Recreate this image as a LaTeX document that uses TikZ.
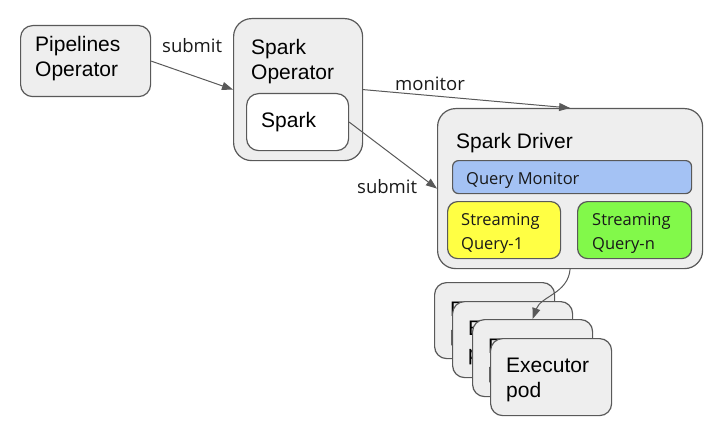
\documentclass[tikz,border=0pt]{standalone}
\usepackage{fontspec}
\setmainfont{Liberation Sans}
\newfontfamily\osans{Open Sans}
\usetikzlibrary{arrows.meta}
\definecolor{boxfill}{HTML}{EEEEEE}
\definecolor{boxline}{HTML}{595959}
\definecolor{arr}{HTML}{595959}
\definecolor{qmon}{HTML}{A4C2F4}
\definecolor{qyel}{HTML}{FFFF44}
\definecolor{qgrn}{HTML}{82F94A}
\newcommand{\twolines}[2]{\begin{tabular}[t]{@{}l@{}}#1\\#2\end{tabular}}
\begin{document}
\begin{tikzpicture}[x=1pt,y=-1pt,
  box/.style={draw=boxline, fill=boxfill, line width=1.2pt, rounded corners=#1, anchor=north west, inner sep=0pt},
  box/.default=12pt,
  big/.style={font=\fontsize{21}{25}\selectfont, anchor=base west, inner sep=0pt, text=black},
  small/.style={font=\osans\fontsize{16.5}{24}\selectfont, anchor=base west, inner sep=0pt, text=black!90},
  lab/.style={font=\osans\fontsize{18.5}{22}\selectfont, anchor=base west, inner sep=0pt, text=black!90},
  conn/.style={draw=arr, line width=1pt, -{Triangle[length=11pt,width=8pt]}}]
\useasboundingbox (0,0) rectangle (721,428);
% Pipelines Operator
\node[box, minimum width=130pt, minimum height=71pt] (pipe) at (20,25) {};
\node[big] (pipeT) at (35,52) {\twolines{Pipelines}{Operator}};
% Spark Operator
\node[box=18pt, minimum width=129pt, minimum height=142pt] (sop) at (233,18) {};
\node[big] (sopT) at (251,55) {\twolines{Spark}{Operator}};
\node[box, fill=white, minimum width=102pt, minimum height=57pt] (spk) at (246,93) {};
\node[big] (spkT) at (261,128) {Spark};
% Spark Driver
\node[box=18pt, minimum width=265pt, minimum height=160pt] (drv) at (437,108) {};
\node[big] (drvT) at (456,148) {Spark Driver};
\node[box=6pt, fill=qmon, minimum width=239pt, minimum height=33pt] (qm) at (452,160) {};
\node[small] (qmT) at (466,184) {Query Monitor};
\node[box=10pt, fill=qyel, minimum width=113pt, minimum height=57pt] (sq1) at (447,201) {};
\node[small] (sq1T) at (461,225) {\twolines{Streaming}{Query-1}};
\node[box=10pt, fill=qgrn, minimum width=114pt, minimum height=57pt] (sqn) at (577,201) {};
\node[small] (sqnT) at (592,225) {\twolines{Streaming}{Query-n}};
% Executor pods
\node[box, minimum width=120pt, minimum height=76pt] (ex1) at (434,282) {};
\node[big] (ex1T) at (450,316) {\twolines{Executor}{pod}};
\node[box, minimum width=120pt, minimum height=76pt] (ex2) at (452,301) {};
\node[big] (ex2T) at (468,335) {\twolines{Executor}{pod}};
\node[box, minimum width=120pt, minimum height=77pt] (ex3) at (472,319) {};
\node[big] (ex3T) at (488,353) {\twolines{Executor}{pod}};
\node[box, minimum width=121pt, minimum height=77pt] (ex4) at (490,338) {};
\node[big] (ex4T) at (506,372) {\twolines{Executor}{pod}};
% connectors
\draw[conn] (pipe.east) -- (sop.west);
\node[lab] (l1) at (162,53) {submit};
\draw[conn] (sop.east) -- (drv.north);
\node[lab] (l2) at (395,91) {monitor};
\draw[conn] (spk.east) -- (drv.west);
\node[lab] (l3) at (357,193) {submit};
\draw[conn] (drv.south) to[out=-95, in=70] (ex3.north);
\end{tikzpicture}
\end{document}
